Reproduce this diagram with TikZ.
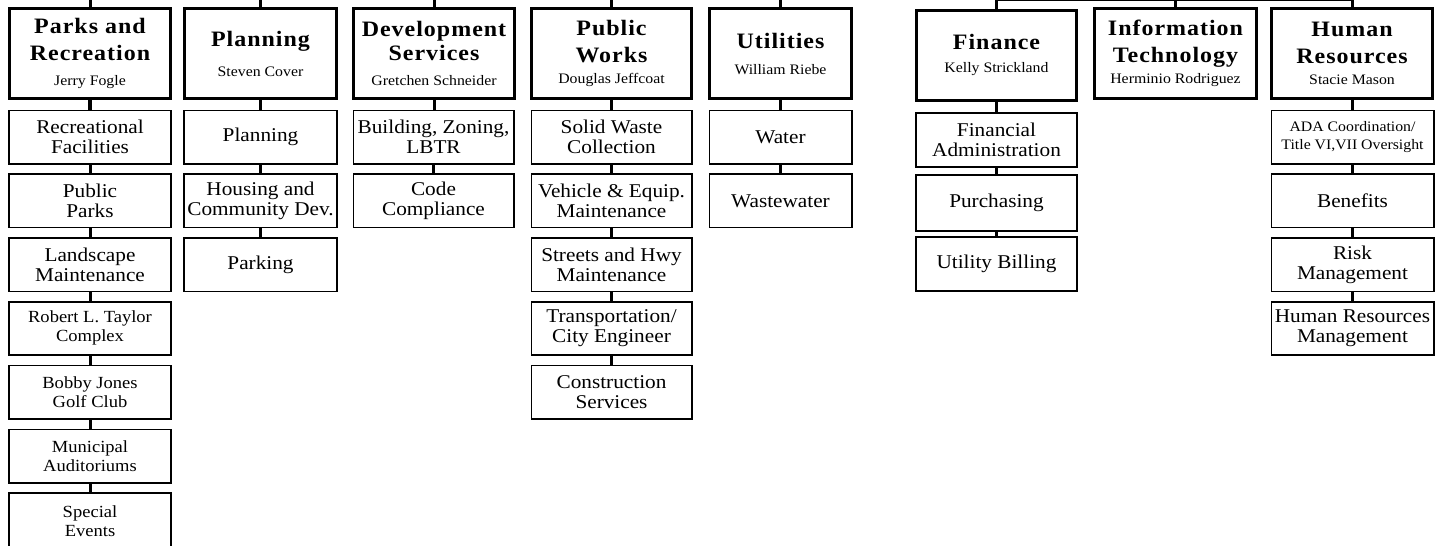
\documentclass[tikz,border=0pt]{standalone}
\usepackage{fontspec}
\setmainfont{Liberation Serif}[FakeStretch=1.09]
\newfontfamily\headfam{Liberation Serif}[FakeStretch=1.09,LetterSpace=4.5]
\newcommand\hdtitle{\headfam\bfseries\fontsize{22}{27}\selectfont}
\newcommand\hdname{\normalfont\fontsize{14.5}{17}\selectfont}
\newcommand\subtxt{\normalfont\fontsize{19.5}{20}\selectfont}
\newcommand\smalltxt{\normalfont\fontsize{17}{19}\selectfont}
\newcommand\tinytxt{\normalfont\fontsize{14.5}{18}\selectfont}

\begin{document}
\begin{tikzpicture}[x=1pt,y=-1pt,
  headbox/.style={draw, line width=3pt, align=center, inner sep=2pt, minimum height=90pt, font=\hdtitle},
  unitbox/.style={draw, line width=1.6pt, align=center, inner sep=2pt, minimum height=53.4pt, font=\subtxt},
  tieline/.style={line width=3pt},
  stemline/.style={line width=3pt},
  topbar/.style={line width=2pt},
]
\useasboundingbox (0,0) rectangle (1444,546);
\clip (0,0) rectangle (1444,546);

% ---- department heads ----
\node[headbox, minimum width=161pt] (parks) at (90,53.5)
  {Parks and\\Recreation\\[-2pt]\hdname Jerry Fogle};
\node[headbox, minimum width=152pt] (plan) at (260.5,53.5)
  {Planning\\[3pt]\hdname Steven Cover};
\node[headbox, minimum width=161pt] (dev) at (434,53.5)
  {Development\\[-3.5pt]Services\\[-2pt]\hdname Gretchen Schneider};
\node[headbox, minimum width=160pt] (pw) at (611.5,53.5)
  {Public\\Works\\[-6.5pt]\hdname Douglas Jeffcoat};
\node[headbox, minimum width=142pt] (util) at (780.5,53.5)
  {Utilities\\[-1pt]\hdname William Riebe};
\node[headbox, minimum width=160pt] (fin) at (996.5,55)
  {Finance\\[-4pt]\hdname Kelly Strickland};
\node[headbox, minimum width=162pt] (it) at (1175.5,53.5)
  {Information\\Technology\\[-6.5pt]\hdname Herminio Rodriguez};
\node[headbox, minimum width=161pt] (hr) at (1352,53.5)
  {Human\\Resources\\[-6.5pt]\hdname Stacie Mason};

% ---- feeds from the top ----
\coordinate (tparks) at (parks.north |- 0,0);
\coordinate (tplan) at (plan.north |- 0,0);
\coordinate (tdev) at (dev.north |- 0,0);
\coordinate (tpw) at (pw.north |- 0,0);
\coordinate (tutil) at (util.north |- 0,0);
\coordinate (tfin) at (fin.north |- 0,0);
\coordinate (tit) at (it.north |- 0,0);
\coordinate (thr) at (hr.north |- 0,0);
\draw[topbar] (tfin) -- (thr);
\foreach \c/\n in {tparks/parks, tplan/plan, tdev/dev, tpw/pw, tutil/util, tfin/fin, tit/it, thr/hr}
  \draw[stemline] (\c) -- (\n.north);

% ---- Parks and Recreation ----
\node[unitbox, minimum width=162.4pt] (pr1) at (90,137) {Recreational\\Facilities};
\node[unitbox, minimum width=162.4pt] (pr2) at (90,200.8) {Public\\Parks};
\node[unitbox, minimum width=162.4pt] (pr3) at (90,264.6) {Landscape\\Maintenance};
\node[unitbox, minimum width=162.4pt, font=\smalltxt] (pr4) at (90,328.4) {Robert L. Taylor\\Complex};
\node[unitbox, minimum width=162.4pt, font=\smalltxt] (pr5) at (90,392.2) {Bobby Jones\\Golf Club};
\node[unitbox, minimum width=162.4pt, font=\smalltxt] (pr6) at (90,456) {Municipal\\Auditoriums};
\node[unitbox, minimum width=162.4pt, minimum height=62pt, font=\smalltxt, text depth=6pt] (pr7) at (90,524) {Special\\Events};
\draw[line width=3.6pt] (parks.south) -- (parks.south |- pr1.north);
\foreach \a/\b in {pr1/pr2, pr2/pr3, pr3/pr4, pr4/pr5, pr5/pr6, pr6/pr7}
  \draw[tieline] (\a.south) -- (\a.south |- \b.north);

% ---- Planning ----
\node[unitbox, minimum width=153.4pt] (pl1) at (260.5,137) {Planning};
\node[unitbox, minimum width=153.4pt] (pl2) at (260.5,200.8) {Housing and\\Community Dev.};
\node[unitbox, minimum width=153.4pt] (pl3) at (260.5,264.6) {Parking};
\foreach \a/\b in {plan/pl1, pl1/pl2, pl2/pl3}
  \draw[tieline] (\a.south) -- (\a.south |- \b.north);

% ---- Development Services ----
\node[unitbox, minimum width=160.4pt] (dv1) at (433.5,137) {Building, Zoning,\\LBTR};
\node[unitbox, minimum width=160.4pt] (dv2) at (433.5,200.8) {Code\\Compliance};
\foreach \a/\b in {dev/dv1, dv1/dv2}
  \draw[tieline] (\a.south) -- (\a.south |- \b.north);

% ---- Public Works ----
\node[unitbox, minimum width=160.4pt] (pw1) at (611.5,137) {Solid Waste\\Collection};
\node[unitbox, minimum width=160.4pt] (pw2) at (611.5,200.8) {Vehicle \& Equip.\\Maintenance};
\node[unitbox, minimum width=160.4pt] (pw3) at (611.5,264.6) {Streets and Hwy\\Maintenance};
\node[unitbox, minimum width=160.4pt] (pw4) at (611.5,328.4) {Transportation/\\City Engineer};
\node[unitbox, minimum width=160.4pt] (pw5) at (611.5,392.2) {Construction\\Services};
\foreach \a/\b in {pw/pw1, pw1/pw2, pw2/pw3, pw3/pw4, pw4/pw5}
  \draw[tieline] (\a.south) -- (\a.south |- \b.north);

% ---- Utilities ----
\node[unitbox, minimum width=142.4pt] (ut1) at (780.5,137) {Water};
\node[unitbox, minimum width=142.4pt] (ut2) at (780.5,200.8) {Wastewater};
\foreach \a/\b in {util/ut1, ut1/ut2}
  \draw[tieline] (\a.south) -- (\a.south |- \b.north);

% ---- Finance ----
\node[unitbox, minimum width=161.4pt, minimum height=54.4pt] (fn1) at (996.5,140) {Financial\\Administration};
\node[unitbox, minimum width=161.4pt, minimum height=56.4pt] (fn2) at (996.5,203) {Purchasing};
\node[unitbox, minimum width=161.4pt, minimum height=54.4pt] (fn3) at (996.5,264) {Utility Billing};
\foreach \a/\b in {fin/fn1, fn1/fn2, fn2/fn3}
  \draw[tieline] (\a.south) -- (\a.south |- \b.north);

% ---- Human Resources ----
\node[unitbox, minimum width=162.4pt, font=\tinytxt] (hr1) at (1352.5,137) {ADA Coordination/\\Title VI,VII Oversight};
\node[unitbox, minimum width=162.4pt] (hr2) at (1352.5,200.8) {Benefits};
\node[unitbox, minimum width=162.4pt] (hr3) at (1352.5,264.6) {Risk\\Management};
\node[unitbox, minimum width=162.4pt] (hr4) at (1352.5,328.4) {Human Resources\\Management};
\foreach \a/\b in {hr/hr1, hr1/hr2, hr2/hr3, hr3/hr4}
  \draw[tieline] (\a.south) -- (\a.south |- \b.north);
\end{tikzpicture}
\end{document}
